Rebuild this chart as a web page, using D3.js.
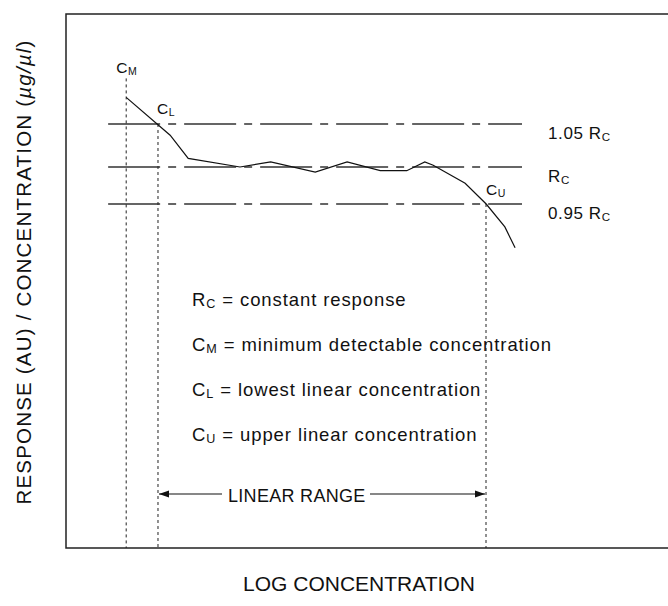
<!DOCTYPE html>
<html>
<head>
<meta charset="utf-8">
<script src="https://cdn.jsdelivr.net/npm/d3@7"></script>
<style>
  body { margin: 0; background: #fff; }
  svg { display: block; font-family: "Liberation Sans", Arial, sans-serif; }
  .frame { stroke: #222; stroke-width: 1.5; fill: none; }
  .ref { stroke: #333; stroke-width: 1.3; stroke-dasharray: 52 8 8 8; }
  .drop { stroke: #222; stroke-width: 1; stroke-dasharray: 3 3; }
  .curve { fill: none; stroke: #111; stroke-width: 1.2; }
  text { fill: #111; }
</style>
</head>
<body>
<svg id="chart"></svg>
<script>
// response / concentration relative to Rc, against log concentration (arbitrary units)
const curveX = [1.0, 1.73, 2.03, 2.89, 3.4, 4.14, 4.67, 5.22, 5.66, 5.96, 6.1, 6.63, 6.98, 7.29, 7.46];
const curveY = [1.081, 1.037, 1.010, 1.000, 1.006, 0.993, 1.006, 0.995, 0.995, 1.006, 1.002, 0.978, 0.950, 0.919, 0.891];

const refLevels = [1.05, 1.0, 0.95];
const refLabels = [["1.05 R", "C"], ["R", "C"], ["0.95 R", "C"]];
const refSpan = [0.7, 7.575];

const cM = 1.0, cL = 1.528, cU = 6.977;

const legendLines = [
  ["R", "C", " = constant response"],
  ["C", "M", " = minimum detectable concentration"],
  ["C", "L", " = lowest linear concentration"],
  ["C", "U", " = upper linear concentration"]
];

const width = 668, height = 606;
const svg = d3.select("#chart").attr("width", width).attr("height", height);

const x = d3.scaleLinear().domain([0, 10]).range([66, 668]);
const y = d3.scaleLinear().domain([0.95, 1.0, 1.05]).range([204, 167, 124]);
const frameTop = 14, frameBottom = 548;

// frame (open on the right)
svg.append("path").attr("class", "frame")
    .attr("d", `M${width},${frameTop}H${x(0)}V${frameBottom}H${width}`);

// reference lines
svg.selectAll(".ref").data(refLevels).enter().append("line")
    .attr("class", "ref")
    .attr("x1", x(refSpan[0])).attr("x2", x(refSpan[1]))
    .attr("y1", d => y(d)).attr("y2", d => y(d));

function subText(g, px, py, main, sub, rest, size, spacing) {
    const t = g.append("text").attr("x", px).attr("y", py)
        .style("font-size", size + "px").style("letter-spacing", spacing + "px");
    t.append("tspan").text(main);
    t.append("tspan").text(sub).style("font-size", (size * 0.68) + "px").attr("dy", 2);
    if (rest) t.append("tspan").text(rest).attr("dy", -2);
    return t;
}

refLevels.forEach((lv, i) => {
    subText(svg, 548, y(lv) + 15, refLabels[i][0], refLabels[i][1], null, 17, 0.6);
});

// drop lines
const cMtop = 1.103;
svg.append("line").attr("class", "drop")
    .attr("x1", x(cM)).attr("x2", x(cM)).attr("y1", y(cMtop)).attr("y2", frameBottom);
svg.append("line").attr("class", "drop")
    .attr("x1", x(cL)).attr("x2", x(cL)).attr("y1", y(1.05)).attr("y2", frameBottom);
svg.append("line").attr("class", "drop")
    .attr("x1", x(cU)).attr("x2", x(cU)).attr("y1", y(0.95)).attr("y2", frameBottom);

// curve
const pts = curveX.map((v, i) => [v, curveY[i]]);
svg.append("path").attr("class", "curve")
    .attr("d", d3.line().x(d => x(d[0])).y(d => y(d[1]))(pts));

// point labels
subText(svg, x(cM) - 10, y(cMtop) - 5, "C", "M", null, 15.5, 0.6);
subText(svg, x(cL) - 1, y(1.05) - 10, "C", "L", null, 15.5, 0.6);
subText(svg, x(cU), y(0.95) - 9, "C", "U", null, 15.5, 0.6);

// legend
legendLines.forEach((l, i) => {
    subText(svg, 192, 306 + i * 45, l[0], l[1], l[2], 18.5, 0.9);
});

// linear range arrow
const arrowY = 494;
svg.append("defs").append("marker")
    .attr("id", "arr").attr("viewBox", "0 0 10 10")
    .attr("refX", 10).attr("refY", 5)
    .attr("markerWidth", 10).attr("markerHeight", 10)
    .attr("markerUnits", "userSpaceOnUse")
    .attr("orient", "auto")
    .append("path").attr("d", "M0,1.5L10,5L0,8.5Z").attr("fill", "#111");

svg.append("line").attr("x1", 222).attr("x2", x(cL) + 1)
    .attr("y1", arrowY).attr("y2", arrowY)
    .attr("stroke", "#111").attr("stroke-width", 1.2).attr("marker-end", "url(#arr)");
svg.append("line").attr("x1", 370).attr("x2", x(cU) - 1)
    .attr("y1", arrowY).attr("y2", arrowY)
    .attr("stroke", "#111").attr("stroke-width", 1.2).attr("marker-end", "url(#arr)");
svg.append("text").attr("x", 228).attr("y", arrowY + 8)
    .style("font-size", "18px").style("letter-spacing", "0.3px")
    .text("LINEAR RANGE");

// axis titles
svg.append("text").attr("x", 359).attr("y", 591)
    .attr("text-anchor", "middle").style("font-size", "21px")
    .text("LOG CONCENTRATION");

const yl = svg.append("text")
    .attr("transform", "translate(31,272) rotate(-90)")
    .attr("text-anchor", "middle").style("font-size", "20.5px")
    .style("letter-spacing", "1.2px");
yl.append("tspan").text("RESPONSE (AU) / CONCENTRATION (");
yl.append("tspan").text("µg/µl").style("font-style", "italic");
yl.append("tspan").text(")");
</script>
</body>
</html>
